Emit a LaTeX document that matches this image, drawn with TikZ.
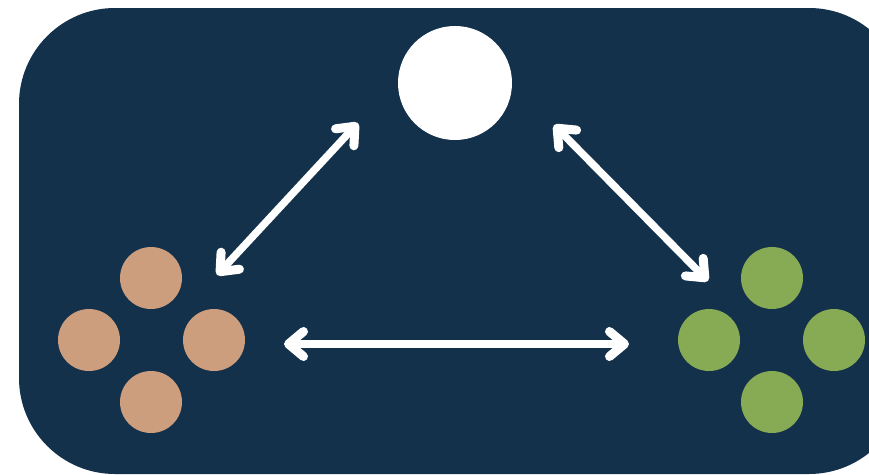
\documentclass[tikz,border=0pt]{standalone}
\usetikzlibrary{arrows.meta}

\definecolor{navy}{HTML}{13314B}
\definecolor{tan}{HTML}{CD9E7E}
\definecolor{leaf}{HTML}{87AA55}

\tikzset{
  dot/.style={circle,fill=#1,draw=none,minimum size=62pt,inner sep=0pt},
  barb/.tip={Straight Barb[length=15pt,width=25pt,line width=9pt,line cap=round,line join=round]},
  link/.style={white,line width=7.5pt,line cap=round,line join=round,barb-barb}
}

\begin{document}
\begin{tikzpicture}[x=1pt,y=-1pt]
      \useasboundingbox (0,0) rectangle (869,474);
      \begin{scope}
          \clip (0,0) rectangle (869,474);
          \fill[navy,rounded corners=96pt] (19,8) rectangle (905,474);
      \end{scope}
      % centre
      \node[dot=white,minimum size=114pt] (hub) at (455,83) {};
      % left group
      \node[dot=tan] (tantop) at (151,278) {};
      \node[dot=tan] (tanleft) at (89,340) {};
      \node[dot=tan] (tanright) at (214,340) {};
      \node[dot=tan] (tanbottom) at (151,402) {};
      % right group
      \node[dot=leaf] (leaftop) at (772,278) {};
      \node[dot=leaf] (leafleft) at (709,340) {};
      \node[dot=leaf] (leafright) at (834,340) {};
      \node[dot=leaf] (leafbottom) at (772,402) {};
      % arrow ends
      \coordinate (a1) at (217,275);
      \coordinate (a2) at (358,123);
      \coordinate (b1) at (554,125);
      \coordinate (b2) at (708,281);
      \coordinate (c1) at (284,344);
      \coordinate (c2) at (629,344);
      \draw[link] (a1) -- (a2);
      \draw[link] (b1) -- (b2);
      \draw[link] (c1) -- (c2);
    \end{tikzpicture}
\end{document}
